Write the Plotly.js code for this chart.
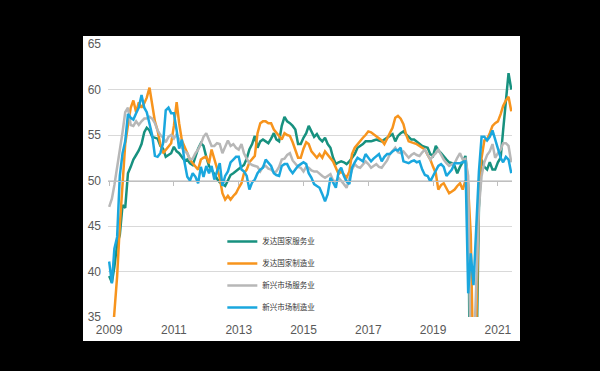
<!DOCTYPE html>
<html>
<head>
<meta charset="utf-8">
<script src="https://cdn.plot.ly/plotly-3.0.1.min.js"></script>
<style>
html,body{margin:0;padding:0;background:#000;}
#chart{width:600px;height:371px;}
</style>
</head>
<body>
<div id="chart"></div>
<script>
// Monthly observations, Jan 2009 .. Jun 2021
var startYear = 2009;
var monthCount = 150;
var months = [];
for (var i = 0; i < monthCount; i++) {
  var yy = startYear + Math.floor(i / 12);
  var mm = (i % 12) + 1;
  months.push(yy + '-' + (mm < 10 ? '0' + mm : mm) + '-01');
}

var seriesNames = ['发达国家服务业', '发达国家制造业', '新兴市场服务业', '新兴市场制造业'];

// 发达国家服务业
var dmServices = [
  39.5, 38.8, 40.5, 43.0, 44.0, 47.3, 47.0, 50.8, 51.5, 52.3, 52.8, 53.3,
  54.0, 55.3, 55.8, 55.5, 54.8, 54.7, 54.6, 53.8, 53.5, 52.6, 52.8, 53.0,
  53.7, 53.2, 53.0, 52.6, 52.2, 52.3, 51.9, 51.7, 52.6, 53.5, 54.1, 53.8,
  52.6, 51.6, 51.2, 50.6, 50.2, 49.8, 49.6, 49.4, 50.0, 50.6, 50.8, 51.0,
  51.3, 51.5, 51.7, 52.4, 53.4, 54.0, 54.9, 53.6, 54.3, 54.5, 54.3, 54.1,
  54.6, 55.2, 54.5, 54.3, 56.0, 57.0, 56.5, 56.3, 56.0, 55.6, 54.0, 54.0,
  54.7, 55.2, 56.0, 55.4, 54.8, 55.1, 54.6, 54.3, 54.7, 54.0, 53.6, 52.5,
  51.8, 52.0, 52.1, 52.0, 51.8, 52.1, 52.5, 52.9, 53.6, 53.8, 54.0, 54.3,
  54.3, 54.3, 54.4, 54.5, 54.4, 54.3, 54.5, 54.7, 54.9, 55.1, 54.3, 54.9,
  55.2, 55.4, 55.1, 54.8, 54.5, 54.5, 54.3, 54.0, 53.8, 53.7, 53.6, 52.9,
  52.7, 53.8, 53.3, 53.0, 52.6, 52.3, 52.0, 51.9, 51.6, 50.8, 51.5, 52.0,
  52.7, 49.5, 15.0, 14.0, 28.0, 47.0, 52.3, 51.5, 51.2, 52.0, 51.2, 51.2,
  52.0, 52.5, 55.5, 58.5, 61.8, 60.0
];

// 发达国家制造业
var dmManufacturing = [
  30.0, 32.0, 35.5, 39.5, 45.0, 50.0, 54.0, 56.1, 58.0, 58.8, 57.5, 58.6,
  58.0, 58.5, 59.1, 60.2, 58.3, 56.5, 55.5, 54.0, 53.0, 53.4, 53.7, 54.1,
  56.0, 58.6, 56.3, 54.4, 53.7, 53.0, 52.3, 51.9, 51.5, 51.2, 52.3, 52.5,
  52.6, 51.9, 53.4, 52.3, 51.2, 50.3, 48.6, 47.9, 48.3, 47.9, 48.3, 48.6,
  49.2, 49.7, 50.8, 51.2, 52.0, 52.3, 52.7, 55.2, 56.3, 56.5, 56.5, 56.3,
  56.3, 55.6, 55.2, 54.9, 54.5, 55.2, 55.0, 54.9, 54.2, 53.4, 52.5, 52.5,
  53.5, 54.2, 54.0, 53.2, 52.8, 52.5, 52.9, 52.5, 53.2, 52.8, 52.5, 52.1,
  51.4, 50.7, 51.0, 50.6, 50.3, 51.0, 52.9, 53.6, 54.0, 54.3, 54.7, 55.0,
  55.4, 55.3, 55.1, 54.9, 54.7, 54.4, 54.0, 54.7, 55.2, 55.8, 56.9, 57.1,
  56.8, 56.2, 55.1, 54.3, 54.2, 54.1, 54.0, 53.8, 53.6, 53.4, 52.8, 52.3,
  51.5, 50.8, 49.0, 49.5, 49.7, 49.1, 48.6, 48.8, 49.0, 49.4, 49.7, 49.0,
  50.0, 49.2, 44.0, 28.0, 33.0, 49.5, 52.5, 54.4, 54.5, 55.2, 56.0, 56.3,
  56.5, 57.3, 58.2, 58.8, 59.2, 57.6
];

// 新兴市场服务业
var emServices = [
  47.1, 48.0, 49.5, 51.4, 53.1, 55.3, 57.5, 58.0, 56.1, 56.0, 56.5, 56.1,
  56.5, 56.8, 56.8, 57.0, 56.8, 56.3, 55.5, 55.0, 54.7, 54.2, 54.8, 55.0,
  54.6, 55.1, 54.5, 53.6, 53.2, 53.0, 52.3, 52.4, 53.0, 53.4, 54.0, 54.8,
  55.2, 54.5, 53.8, 53.8, 54.1, 54.0, 53.0, 53.7, 54.4, 53.8, 54.0, 53.6,
  53.4, 54.0, 53.0, 52.4, 51.9, 51.7, 51.6, 51.5, 51.0, 51.5, 51.6, 51.3,
  51.2, 50.9, 51.0, 51.5, 52.3, 52.4, 52.8, 53.0, 52.2, 51.8, 51.5, 51.4,
  51.0, 51.5, 51.4, 51.1, 51.0, 51.0, 50.7, 50.5, 50.3, 50.5, 50.7, 50.0,
  49.9, 50.3, 50.0, 49.6, 49.2, 50.3, 51.2, 51.8, 51.5, 51.4, 51.8, 52.1,
  51.8, 51.4, 51.6, 51.8, 51.5, 51.4, 51.8, 52.2, 52.9, 53.3, 53.6, 53.1,
  53.0, 53.2, 52.8, 52.5, 52.8, 53.0, 52.8, 52.7, 53.1, 53.4, 52.8, 52.3,
  52.7, 53.0, 53.4, 52.8, 52.3, 51.9, 51.6, 51.8, 51.9, 52.5, 53.0, 52.3,
  52.4, 50.5, 28.0, 30.0, 38.0, 47.0, 50.5, 52.0, 52.8, 53.2, 54.0, 52.5,
  53.0, 53.4, 54.1, 54.1, 53.8, 52.0
];

// 新兴市场制造业
var emManufacturing = [
  41.1, 38.7, 42.5, 43.8, 50.5, 53.0, 54.3, 57.3, 56.9, 56.7, 57.4, 58.0,
  59.4, 58.0, 57.5, 56.3, 55.0, 52.7, 52.6, 53.0, 54.1, 57.7, 58.0, 57.4,
  57.4, 55.5, 53.5, 54.5, 52.0, 50.4, 50.0, 50.8, 50.4, 49.7, 51.5, 50.4,
  51.6, 50.8, 51.6, 50.1, 51.0, 51.9, 49.4, 50.5, 51.0, 52.0, 52.3, 52.6,
  52.6, 51.2, 51.0, 50.5, 49.0, 49.8, 50.1, 50.8, 51.2, 51.4, 52.3, 52.0,
  51.6, 50.8, 50.6, 50.5, 51.6, 51.8, 51.8, 51.2, 50.8, 51.2, 51.6, 51.8,
  52.0, 51.8, 50.8, 50.3, 49.6, 49.4, 49.2, 48.5, 47.7, 48.5, 50.3, 49.8,
  49.2, 51.0, 51.4, 50.5, 49.9, 49.6, 51.4, 52.0, 52.5, 52.3, 52.1, 52.9,
  52.5, 52.1, 52.4, 52.7, 52.9, 52.1, 52.6, 52.9, 52.9, 53.2, 53.4, 53.3,
  53.6, 52.1, 52.0, 51.9, 52.1, 52.2, 52.0, 52.1, 51.2, 50.6, 50.5, 49.9,
  50.5, 51.0, 51.6, 51.8, 51.5, 50.5, 50.8, 51.2, 51.9, 51.9, 51.9, 52.0,
  52.1, 37.6, 42.0, 38.5, 45.0, 51.0, 54.8, 54.8, 54.4, 54.8, 55.5, 54.6,
  53.5, 52.5, 52.0, 52.6, 52.3, 50.8
];

var yTickVals = [35, 40, 45, 50, 55, 60, 65];
var xTickLabels = ['2009', '2011', '2013', '2015', '2017', '2019', '2021'];
var xTickVals = xTickLabels.map(function (y) { return y + '-01-01'; });

var colors = ['#17917f', '#f7941d', '#b7b7b7', '#1aa7de'];
var allSeries = [dmServices, dmManufacturing, emServices, emManufacturing];

var traces = allSeries.map(function (vals, k) {
  return {
    x: months,
    y: vals,
    type: 'scatter',
    mode: 'lines',
    name: seriesNames[k],
    legendgroup: 'g' + k,
    line: {color: colors[k], width: 2.5},
    hoverinfo: 'skip'
  };
});
// axis crossing helper (draws tick marks on the 50 line)
traces.push({x: [months[0]], y: [50], xaxis: 'x2', yaxis: 'y', mode: 'lines',
  showlegend: false, hoverinfo: 'skip', line: {color: 'rgba(0,0,0,0)'}});

var xr = ['2008-12-19', '2021-06-09'];

var layout = {
  width: 600,
  height: 371,
  margin: {l: 108, r: 88, t: 44, b: 54},
  paper_bgcolor: '#000000',
  plot_bgcolor: 'rgba(0,0,0,0)',
  font: {family: 'Liberation Sans, Arial, sans-serif', color: '#595959', size: 12},
  showlegend: true,
  legend: {
    x: 0.283, y: 0.33, xanchor: 'left', yanchor: 'top',
    bgcolor: 'rgba(0,0,0,0)',
    font: {family: 'Noto Sans CJK SC', size: 7.5, color: '#333333'},
    tracegroupgap: 3,
    itemwidth: 30
  },
  xaxis: {
    type: 'date',
    range: xr,
    tickvals: xTickVals,
    ticktext: xTickLabels,
    showgrid: false,
    zeroline: false,
    showline: false,
    ticks: '',
    ticklabelstandoff: 4,
    tickfont: {size: 12, color: '#595959'}
  },
  xaxis2: {
    type: 'date',
    range: xr,
    overlaying: 'x',
    anchor: 'free',
    position: 0.5,
    tickvals: xTickVals,
    showticklabels: false,
    showgrid: false,
    zeroline: false,
    showline: true,
    linecolor: '#bfbfbf',
    linewidth: 1,
    ticks: 'outside',
    ticklen: 4,
    tickcolor: '#bfbfbf'
  },
  yaxis: {
    range: [35, 65],
    tickvals: yTickVals,
    showgrid: true,
    gridcolor: '#d9d9d9',
    gridwidth: 1,
    zeroline: false,
    showline: false,
    ticks: '',
    ticklabelstandoff: 6,
    tickfont: {size: 12, color: '#595959'}
  },
  shapes: [{
    type: 'rect', xref: 'paper', yref: 'paper', layer: 'below',
    x0: -25 / 404, x1: 1 + 8 / 404, y0: -24 / 273, y1: 1 + 8 / 273,
    fillcolor: '#ffffff', line: {width: 0}
  }]
};

Plotly.newPlot('chart', traces, layout, {staticPlot: true, displayModeBar: false});
</script>
</body>
</html>
